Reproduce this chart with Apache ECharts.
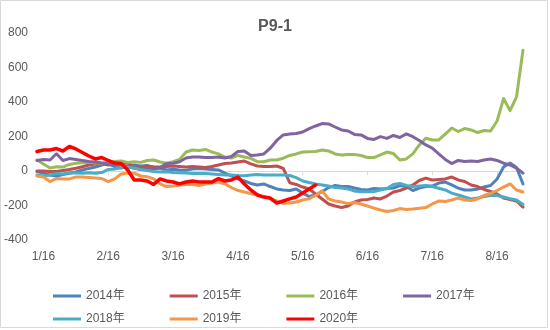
<!DOCTYPE html>
<html>
<head>
<meta charset="utf-8">
<script src="https://cdn.jsdelivr.net/npm/echarts@6/dist/echarts.min.js"></script>
<style>
  html, body { margin: 0; padding: 0; background: #fff; }
  #chart { width: 550px; height: 330px; }
</style>
</head>
<body>
<div id="chart"></div>
<script>
// Trading calendar sampled every few days, mid-January to end of August
const dates = ['1/13','1/16','1/19','1/22','1/25','1/28',
  '2/1','2/4','2/7','2/10','2/13','2/16','2/19','2/22','2/25','2/28',
  '3/1','3/4','3/7','3/10','3/13','3/16','3/19','3/22','3/25','3/28',
  '4/1','4/4','4/7','4/10','4/13','4/16','4/19','4/22','4/25','4/28',
  '5/1','5/4','5/7','5/10','5/13','5/16','5/19','5/22','5/25','5/28',
  '6/1','6/4','6/7','6/10','6/13','6/16','6/19','6/22','6/25','6/28',
  '7/1','7/4','7/7','7/10','7/13','7/16','7/19','7/22','7/25','7/28',
  '8/1','8/4','8/7','8/10','8/13','8/16','8/19','8/22','8/25','8/28'];

// Dates that carry an axis label
const tickLabels = ['1/16','2/16','3/16','4/16','5/16','6/16','7/16','8/16'];

const seriesNames = ['2014年','2015年','2016年','2017年','2018年','2019年','2020年'];

const y2014 = [-3,-12,-23,-29,-20,-13,-6,6,15,23,
  35,43,26,17,29,35,29,32,17,16,
  6,10,6,5,12,15,12,8,6,-12,
  -29,-46,-58,-72,-81,-75,-90,-104,-110,-113,
  -104,-128,-148,-139,-120,-96,-84,-90,-90,-99,
  -107,-110,-101,-104,-101,-99,-84,-90,-113,-99,
  -90,-87,-70,-64,-81,-99,-110,-110,-104,-93,
  -84,-46,23,46,20,-75];

const y2015 = [0,0,-3,-3,3,9,16,25,35,41,
  43,35,39,43,46,25,17,29,25,23,
  26,29,26,23,26,23,20,26,35,43,
  46,52,58,41,29,26,26,29,15,-68,
  -78,-93,-104,-133,-162,-191,-203,-212,-203,-180,
  -168,-165,-157,-162,-145,-122,-113,-99,-81,-55,
  -41,-52,-49,-46,-35,-52,-61,-81,-90,-107,
  -119,-133,-157,-165,-174,-209];

const y2016 = [64,41,17,25,23,38,45,48,50,46,
  45,52,55,58,50,54,50,61,64,52,
  45,54,67,110,122,119,125,110,99,81,
  75,90,81,73,54,54,64,64,74,90,
  99,110,112,113,122,116,99,93,96,96,
  90,78,78,93,110,101,64,70,99,151,
  190,180,180,214,249,229,246,238,223,235,
  232,290,420,350,430,700];

const y2017 = [61,67,64,100,61,72,67,61,55,52,
  46,41,41,29,23,17,9,15,12,20,
  43,45,54,75,81,81,78,78,81,75,
  84,113,116,90,93,99,132,177,209,215,
  217,226,246,261,275,273,255,238,232,212,
  209,189,183,199,189,206,194,215,199,177,
  151,133,99,67,43,61,55,58,55,64,
  70,61,45,35,17,-12];

const y2018 = [-23,-29,-23,-15,-17,-10,-12,-13,-10,-13,
  -9,9,12,20,23,17,9,3,-3,-6,
  -4,-9,-10,-12,-15,-15,-15,-17,-20,-23,
  -23,-26,-27,-23,-20,-23,-23,-23,-23,-26,
  -38,-58,-67,-75,-81,-87,-96,-99,-104,-116,
  -120,-120,-119,-110,-101,-78,-72,-84,-90,-87,
  -84,-90,-100,-110,-128,-139,-151,-162,-157,-148,
  -142,-142,-151,-160,-168,-194];

const y2019 = [-29,-35,-61,-44,-46,-46,-35,-35,-38,-41,
  -44,-61,-46,-17,-12,-13,-29,-33,-46,-75,
  -90,-87,-81,-78,-78,-84,-75,-70,-64,-75,
  -96,-113,-122,-130,-139,-149,-160,-174,-187,-186,
  -180,-168,-160,-142,-115,-162,-174,-180,-189,-183,
  -191,-203,-215,-226,-235,-229,-218,-223,-220,-216,
  -212,-191,-174,-177,-168,-157,-168,-171,-162,-142,
  -130,-113,-93,-75,-110,-122];

// 2020 only runs to late May
const y2020 = [113,122,122,130,116,142,128,107,87,70,
  78,61,46,43,6,-52,-52,-58,-78,-46,
  -58,-64,-75,-64,-58,-64,-64,-64,-44,-58,
  -52,-35,-75,-110,-139,-151,-157,-186,-174,-162,
  -151,-128,-104,-81];

const yTicks = { min: -400, max: 800, step: 200 };

const colors = ['#4F81BD','#C0504D','#9BBB59','#8064A2','#4BACC6','#F79646','#FF0000'];
const values = [y2014, y2015, y2016, y2017, y2018, y2019, y2020];

const fontFamily = "'Liberation Sans', 'Noto Sans CJK SC', sans-serif";
const textColor = '#595959';
const isTickDate = (idx, val) => tickLabels.indexOf(val) !== -1;

const chart = echarts.init(document.getElementById('chart'), null, { renderer: 'canvas' });

const legendBase = {
  left: 48,
  itemGap: 45,
  itemWidth: 28,
  itemHeight: 3,
  icon: 'rect',
  textStyle: { color: textColor, fontSize: 12, fontFamily: fontFamily }
};

chart.setOption({
  animation: false,
  backgroundColor: '#ffffff',
  color: colors,
  title: {
    text: 'P9-1',
    left: 'center',
    top: 14,
    textStyle: { color: textColor, fontSize: 16, fontWeight: 'bold', fontFamily: fontFamily }
  },
  graphic: [{
    type: 'rect',
    shape: { x: 0.5, y: 0.5, width: 547, height: 327 },
    style: { fill: 'none', stroke: '#d9d9d9', lineWidth: 1 },
    silent: true
  }],
  legend: [
    Object.assign({}, legendBase, { top: 285, data: seriesNames.slice(0, 4) }),
    Object.assign({}, legendBase, { top: 308, data: seriesNames.slice(4) })
  ],
  grid: { left: 37, right: 27, top: 33, bottom: 90 },
  xAxis: [{
    type: 'category',
    data: dates,
    boundaryGap: false,
    axisLine: { show: false, onZero: false },
    axisTick: { show: false },
    axisLabel: {
      interval: isTickDate,
      color: textColor,
      fontSize: 12,
      fontFamily: fontFamily,
      margin: 11
    },
    splitLine: { show: false }
  }, {
    type: 'category',
    data: dates,
    boundaryGap: false,
    axisLine: { show: true, onZero: true, lineStyle: { color: '#d9d9d9', width: 1 } },
    axisTick: { show: true, interval: isTickDate, inside: true, length: 4, lineStyle: { color: '#d9d9d9' } },
    axisLabel: { show: false },
    splitLine: { show: false }
  }],
  yAxis: {
    type: 'value',
    min: yTicks.min,
    max: yTicks.max,
    interval: yTicks.step,
    axisLine: { show: false },
    axisTick: { show: false },
    splitLine: { show: false },
    axisLabel: { color: textColor, fontSize: 12, fontFamily: fontFamily, margin: 9 }
  },
  series: seriesNames.map((name, i) => ({
    name: name,
    type: 'line',
    xAxisIndex: 0,
    data: values[i],
    symbol: 'none',
    smooth: false,
    lineStyle: { width: i === 6 ? 3.5 : 3, color: colors[i], cap: 'round', join: 'round' },
    itemStyle: { color: colors[i] }
  }))
});
</script>
</body>
</html>
